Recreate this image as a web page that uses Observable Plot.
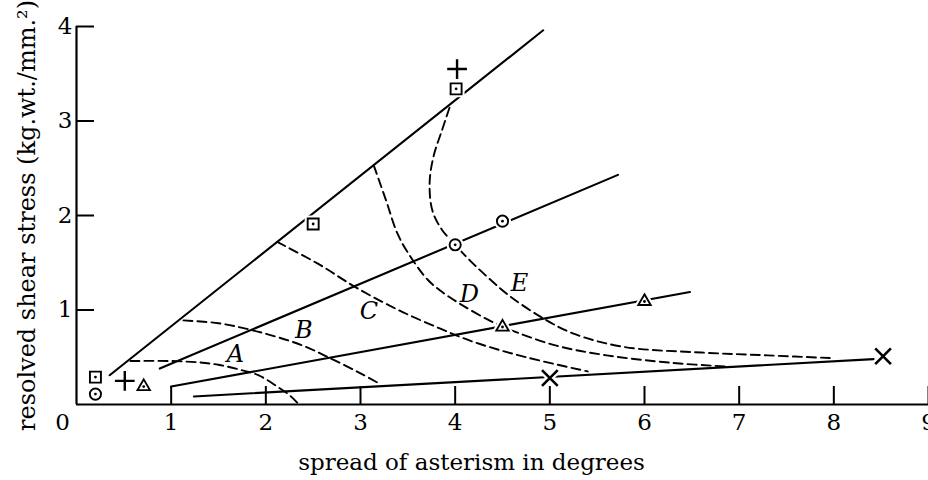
<!DOCTYPE html>
<html>
<head>
<meta charset="utf-8">
<script src="https://cdn.jsdelivr.net/npm/d3@7"></script>
<script src="https://cdn.jsdelivr.net/npm/@observablehq/plot@0.6"></script>
<style>
  html, body { margin: 0; padding: 0; background: #fff; }
  #chart svg { display: block; }
</style>
</head>
<body>
<div id="chart"></div>
<script>
// Axis ticks and titles
const xTicks = [1, 2, 3, 4, 5, 6, 7, 8, 9];
const yTicks = [1, 2, 3, 4];
const xTitle = "spread of asterism in degrees";
const yTitle = "resolved shear stress (kg.wt./mm.²)";

// Straight lines through each set of observations [spread, stress]
const squareLine   = [[0.35, 0.31], [4.93, 3.96]];
const circleLine   = [[0.88, 0.38], [5.72, 2.43]];
const triangleLine = [[1.0, 0.19], [6.48, 1.19]];
const crossLine    = [[1.24, 0.085], [8.42, 0.48]];

// Observations
const squarePts   = [[0.2, 0.29], [2.5, 1.91], [4.01, 3.34]];
const plusPts     = [[0.51, 0.25], [4.02, 3.55]];
const circlePts   = [[0.2, 0.11], [4.0, 1.69], [4.5, 1.94]];
const trianglePts = [[0.71, 0.19], [4.5, 0.82], [6.0, 1.09]];
const crossPts    = [[5.0, 0.28], [8.52, 0.51]];

// Dashed contours A–E
const curveA = [[0.57, 0.46], [1.0, 0.46], [1.3, 0.445], [1.5, 0.42], [1.72, 0.37], [1.92, 0.31], [2.12, 0.19], [2.26, 0.09], [2.35, 0.0]];
const curveB = [[1.13, 0.89], [1.5, 0.86], [1.8, 0.80], [2.1, 0.72], [2.4, 0.62], [2.7, 0.48], [3.0, 0.33], [3.2, 0.22]];
const curveC = [[2.12, 1.72], [2.55, 1.49], [2.95, 1.24], [3.4, 1.0], [3.85, 0.80], [4.2, 0.66], [4.75, 0.50], [5.4, 0.35]];
const curveD = [[3.14, 2.53], [3.27, 2.16], [3.39, 1.81], [3.53, 1.56], [3.71, 1.32], [3.85, 1.20], [4.06, 1.06], [4.38, 0.88], [4.66, 0.76], [5.08, 0.62], [5.6, 0.52], [6.3, 0.44], [6.9, 0.40]];
const curveE = [[3.94, 3.14], [3.86, 2.90], [3.77, 2.62], [3.73, 2.34], [3.76, 2.05], [3.86, 1.85], [4.0, 1.69], [4.16, 1.52], [4.34, 1.35], [4.56, 1.16], [4.9, 0.93], [5.25, 0.75], [5.78, 0.61], [6.6, 0.55], [7.3, 0.52], [8.0, 0.49]];
const curves = [curveA, curveB, curveC, curveD, curveE];

// Curve labels
const curveNames = ["A", "B", "C", "D", "E"];
const labelX = [1.68, 2.4, 3.09, 4.15, 4.68];
const labelY = [0.53, 0.78, 0.99, 1.17, 1.28];

const serif = "DejaVu Serif, Liberation Serif, serif";
const px = d => d[0];
const py = d => d[1];

// Observation symbol with a white halo that breaks the line beneath it
function observed(pts, symbol, r, dotted) {
  const marks = [
    Plot.dot(pts, {x: px, y: py, symbol, r, fill: "white", stroke: "white", strokeWidth: 6}),
    Plot.dot(pts, {x: px, y: py, symbol, r, fill: "white", stroke: "black", strokeWidth: 1.9})
  ];
  if (dotted) marks.push(Plot.dot(pts, {x: px, y: py, r: 1.4, fill: "black"}));
  return marks;
}

const chart = Plot.plot({
  width: 928,
  height: 480,
  marginLeft: 76,
  marginRight: 0,
  marginTop: 26,
  marginBottom: 76,
  x: {domain: [0, 9], axis: null},
  y: {domain: [0, 4], axis: null},
  style: {background: "white", fontFamily: serif},
  marks: [
    // axes with inward ticks
    Plot.ruleY([0], {strokeWidth: 2.2}),
    Plot.ruleX([0], {y1: 0, y2: 4, strokeWidth: 2.2}),
    Plot.ruleX(xTicks, {x: d => d, y1: 0, y2: 0, insetTop: -18, strokeWidth: 2}),
    Plot.ruleY(yTicks, {y: d => d, x1: 0, x2: 0, insetRight: -18, strokeWidth: 2}),

    // tick labels
    Plot.text(xTicks, {x: d => d, y: 0, dy: 18, text: d => String(d), fontSize: 23, fontFamily: serif, fill: "black"}),
    Plot.text(yTicks, {x: 0, y: d => d, dx: -4, text: d => String(d), textAnchor: "end", fontSize: 23, fontFamily: serif, fill: "black"}),
    Plot.text(["0"], {x: 0, y: 0, dx: -14, dy: 18, text: d => d, fontSize: 23, fontFamily: serif, fill: "black"}),

    // axis titles
    Plot.text([xTitle], {frameAnchor: "bottom", textAnchor: "middle", lineAnchor: "middle", dx: -31, dy: 58, text: d => d, fontSize: 23, fontFamily: serif, fill: "black"}),
    Plot.text([yTitle], {frameAnchor: "left", textAnchor: "middle", lineAnchor: "middle", dx: -49, rotate: -90, text: d => d, fontSize: 24, fontFamily: serif, fill: "black"}),

    // dashed contours
    ...curves.map(c => Plot.line(c, {x: px, y: py, curve: "catmull-rom", stroke: "black", strokeWidth: 1.9, strokeDasharray: "9,5"})),

    // fitted lines
    ...[squareLine, circleLine, triangleLine, crossLine].map(l => Plot.line(l, {x: px, y: py, stroke: "black", strokeWidth: 2.1})),

    // observations
    ...observed(squarePts, "square", 6.2, true),
    ...observed(circlePts, "circle", 5.6, true),
    ...observed(trianglePts, "triangle", 4.6, true),
    Plot.dot(plusPts, {x: px, y: py, symbol: "plus", r: 6.4, stroke: "black", strokeWidth: 2.4}),
    Plot.dot(crossPts, {x: px, y: py, symbol: "times", r: 8, stroke: "white", strokeWidth: 7}),
    Plot.dot(crossPts, {x: px, y: py, symbol: "times", r: 7.2, stroke: "black", strokeWidth: 2.6}),

    // contour labels
    Plot.text(curveNames, {x: (d, i) => labelX[i], y: (d, i) => labelY[i], text: d => d, fontSize: 24, fontStyle: "italic", fontFamily: serif, fill: "black"})
  ]
});

document.getElementById("chart").appendChild(chart);
</script>
</body>
</html>
